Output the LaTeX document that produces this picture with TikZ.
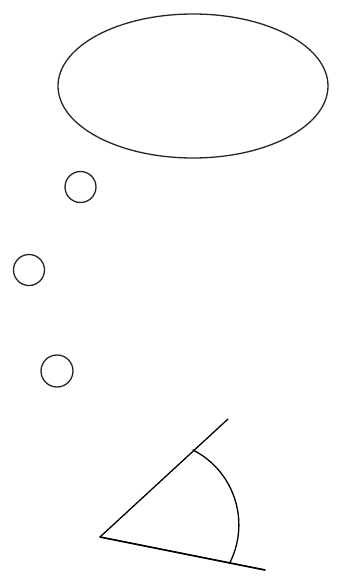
\documentclass[tikz,border=0pt]{standalone}
\begin{document}
\begin{tikzpicture}[x=1pt,y=-1pt,
  outline/.style={draw=black!85,line width=1.3pt},
  ray/.style={draw=black,line width=1.3pt,line cap=round}]
\useasboundingbox (0,0) rectangle (339,581);
% thought bubble
\draw[outline] (193,86) ellipse [x radius=135, y radius=72];
\draw[outline] (80.5,187) circle [radius=15.5];
\draw[outline] (29,270) circle [radius=15.5];
\draw[outline] (57,371) circle [radius=16];
% angle
\coordinate (V) at (100,537);
\coordinate (U) at (228,419);
\coordinate (L) at (265,570);
\coordinate (A) at (193,450);
\draw[ray] (V) -- (U);
\draw[ray,line width=1.7pt] (V) -- (L);
\draw[ray] (A) arc [start angle=-63, end angle=26.3, radius=84];
\end{tikzpicture}
\end{document}
